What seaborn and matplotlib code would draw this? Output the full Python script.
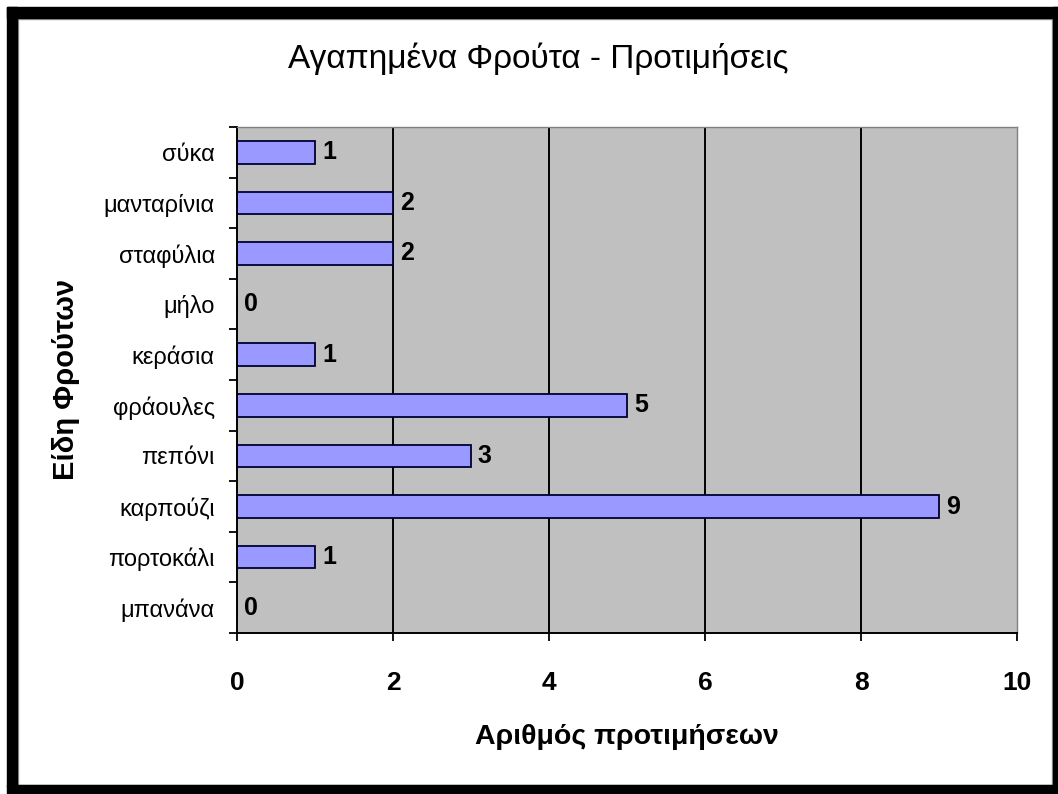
import matplotlib.pyplot as plt
import pandas as pd
import seaborn as sns
from matplotlib.patches import Rectangle

# Chart data (top to bottom, as in the picture)
fruits = ['σύκα', 'μανταρίνια', 'σταφύλια', 'μήλο', 'κεράσια',
          'φράουλες', 'πεπόνι', 'καρπούζι', 'πορτοκάλι', 'μπανάνα']
votes = [1, 2, 2, 0, 1, 5, 3, 9, 1, 0]
x_ticks = [0, 2, 4, 6, 8, 10]

TITLE = 'Αγαπημένα Φρούτα - Προτιμήσεις'
X_LABEL = 'Αριθμός προτιμήσεων'
Y_LABEL = 'Είδη Φρούτων'

W, H = 1058, 794

sns.set_style('white')
plt.rcParams['font.family'] = ['Liberation Sans', 'DejaVu Sans']
plt.rcParams['text.color'] = 'black'
plt.rcParams['axes.labelcolor'] = 'black'
plt.rcParams['xtick.color'] = 'black'
plt.rcParams['ytick.color'] = 'black'

df = pd.DataFrame({'Fruit': fruits, 'Votes': votes})

fig = plt.figure(figsize=(W / 100, H / 100), dpi=100)
ax = fig.add_axes([237 / W, 1 - 633 / H, (1017 - 237) / W, (633 - 127) / H])
ax.set_facecolor('#C0C0C0')

# vertical gridlines behind the bars
for t in x_ticks[1:-1]:
    ax.axvline(t, color='black', lw=1.4, zorder=0.5)

sns.barplot(data=df, x='Votes', y='Fruit', orient='h', color='#9999FF',
            saturation=1, edgecolor='#000033', linewidth=1.3, width=0.45,
            ax=ax, zorder=2)

ax.bar_label(ax.containers[0], padding=5, fontsize=18, fontweight='bold')

ax.set_xlim(0, 10)
ax.set_ylim(len(fruits) - 0.5, -0.5)
ax.set_xticks(x_ticks)
ax.set_xticklabels([str(t) for t in x_ticks], fontsize=19, fontweight='bold')
ax.tick_params(axis='x', direction='out', length=6, width=1.3, color='black', pad=21, bottom=True)

# category labels centred, tick marks between categories
ax.set_yticks(range(len(fruits)))
ax.set_yticklabels(fruits, fontsize=17)
ax.set_yticks([i - 0.5 for i in range(len(fruits) + 1)], minor=True)
ax.tick_params(axis='y', which='major', length=0, pad=16)
ax.tick_params(axis='y', which='minor', direction='out', length=6, width=1.3, color='black', left=True)

ax.set_xlabel(X_LABEL, fontsize=20.5, fontweight='bold', va='center')
ax.set_ylabel(Y_LABEL, fontsize=21, fontweight='bold', va='center')
ax.xaxis.set_label_coords(0.5, (633 - 737) / (633 - 127))
ax.yaxis.set_label_coords((66 - 237) / (1017 - 237), 0.5)

for side in ['left', 'bottom']:
    ax.spines[side].set_color('black')
    ax.spines[side].set_linewidth(1.4)
for side in ['top', 'right']:
    ax.spines[side].set_color('#808080')
    ax.spines[side].set_linewidth(1)

fig.text(538 / W, 1 - 68 / H, TITLE, fontsize=24, ha='center', va='baseline')


# thick black frame around the chart (pixel boxes)
def frame_box(x0, y0, x1, y1):
    fig.patches.append(Rectangle((x0 / W, 1 - y1 / H), (x1 - x0) / W, (y1 - y0) / H,
                                 transform=fig.transFigure, color='black', zorder=10))


# thin grey chart-area border just inside the black frame
fig.patches.append(Rectangle((18 / W, 1 - 785 / H), (1052 - 18) / W, (785 - 19) / H,
                             transform=fig.transFigure, fill=False, edgecolor='#A0A0A0',
                             lw=1, zorder=9))

frame_box(7, 7, 17, 787)
frame_box(7, 7, W, 18)
frame_box(1053, 7, W, H)
frame_box(7, 785, W, H)

plt.savefig('out.png', dpi=100)
